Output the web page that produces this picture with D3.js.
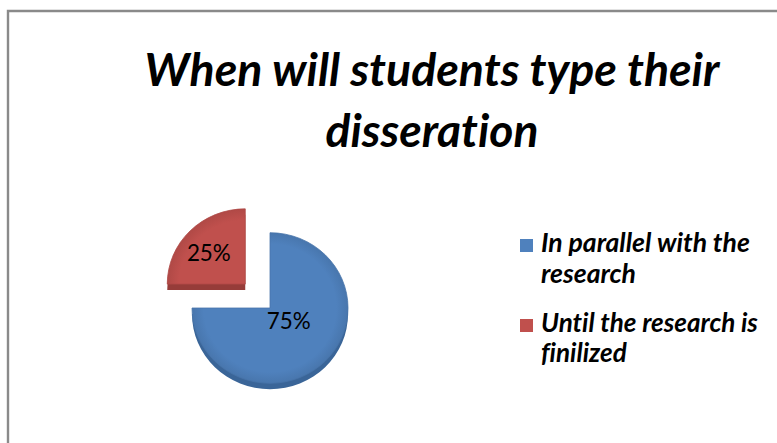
<!DOCTYPE html>
<html>
<head>
<meta charset="utf-8">
<script src="https://cdn.jsdelivr.net/npm/d3@7"></script>
<style>
  html, body { margin: 0; padding: 0; background: #fff; }
  svg { display: block; }
  text { font-variant-ligatures: none; font-feature-settings: "liga" 0, "clig" 0, "dlig" 0; }
</style>
</head>
<body>
<svg id="chart" width="777" height="443"></svg>
<script>
// Survey answers: when students type up their dissertation
const categories = ["In parallel with the research", "Until the research is finilized"];
const legendLines = [["In parallel with the", "research"], ["Until the research is", "finilized"]];
const shares = [75, 25];
const valueLabels = ["75%", "25%"];
const titleLines = ["When will students type their", "disseration"];

const faceColors = ["#4f81bd", "#c0504d"];
const sideColors = ["#3a6598", "#963c39"];
const FONT = "Lato, 'Open Sans', 'DejaVu Sans', sans-serif";

const W = 777, H = 443;
const svg = d3.select("#chart");

// Frame: only the top and left edges fall inside the page
svg.append("path")
  .attr("d", `M8,${H} L8,11 L${W},11`)
  .attr("fill", "none")
  .attr("stroke", "#8a8a8a")
  .attr("stroke-width", 2.4);

// Fit a text element to a target width by adjusting its font size
function fitWidth(sel, target) {
  const node = sel.node();
  const size = parseFloat(sel.attr("font-size"));
  const w = node.getComputedTextLength();
  sel.attr("font-size", size * target / w);
}

// Title
const titleCx = 432;
const titleBaselines = [86, 147];
const titleWidths = [575, 213];
titleLines.forEach((t, i) => {
  const el = svg.append("text")
    .attr("x", titleCx)
    .attr("y", titleBaselines[i])
    .attr("text-anchor", "middle")
    .attr("font-family", FONT)
    .attr("font-weight", 700)
    .attr("font-style", "italic")
    .attr("font-size", 40)
    .attr("fill", "#000")
    .text(t);
  fitWidth(el, titleWidths[i]);
});

// Pie
const cx = 270, cy = 308;
const r = 78, tilt = 0.965, depth = 6, explode = 35;

const pie = d3.pie().sort(null).startAngle(0).endAngle(2 * Math.PI);
const arcs = pie(shares);
const arc = d3.arc().innerRadius(0).outerRadius(r);

// Offset for exploded slices (the smaller one is pulled out)
const explodeBy = [0, explode];
function offset(d, i) {
  const a = (d.startAngle + d.endAngle) / 2;
  return [Math.sin(a) * explodeBy[i], -Math.cos(a) * explodeBy[i] * tilt];
}

const pieG = svg.append("g").attr("transform", `translate(${cx},${cy})`);

// Side walls (drawn first, shifted down)
arcs.forEach((d, i) => {
  const [ox, oy] = offset(d, i);
  pieG.append("g")
    .attr("transform", `translate(${ox},${oy + depth}) scale(1,${tilt})`)
    .append("path")
    .attr("d", arc(d))
    .attr("fill", sideColors[i]);
});

// Top faces with a slightly darker rim
const defs = svg.append("defs");
arcs.forEach((d, i) => {
  const [ox, oy] = offset(d, i);
  const grad = defs.append("radialGradient")
    .attr("id", "face" + i)
    .attr("gradientUnits", "userSpaceOnUse")
    .attr("cx", 0).attr("cy", 0).attr("r", r);
  const base = d3.color(faceColors[i]);
  grad.append("stop").attr("offset", "0.85").attr("stop-color", base.formatHex());
  grad.append("stop").attr("offset", "1").attr("stop-color", base.darker(0.25).formatHex());
  pieG.append("g")
    .attr("transform", `translate(${ox},${oy}) scale(1,${tilt})`)
    .append("path")
    .attr("d", arc(d))
    .attr("fill", `url(#face${i})`)
    .attr("stroke", base.darker(0.3).formatHex())
    .attr("stroke-width", 0.8);
});

// Value labels
const labelRadius = [0.34, 0.66];
const labelShift = [-5, 4];
arcs.forEach((d, i) => {
  const [ox, oy] = offset(d, i);
  const la = d3.arc().innerRadius(r * labelRadius[i]).outerRadius(r * labelRadius[i]);
  const [lx, ly] = la.centroid(d);
  const t = pieG.append("text")
    .attr("x", lx + ox)
    .attr("y", ly * tilt + oy + labelShift[i])
    .attr("dy", "0.35em")
    .attr("text-anchor", "middle")
    .attr("font-family", FONT)
    .attr("font-size", 21)
    .attr("fill", "#000")
    .text(valueLabels[i]);
  fitWidth(t, 44);
});

// Legend
const legX = 520, textX = 541, sw = 13;
const legendBaselines = [[252, 283], [332, 362]];
const legendWidths = [209, 217];
categories.forEach((c, i) => {
  const g = svg.append("g").attr("class", "legend-item").attr("data-name", c);
  g.append("rect")
    .attr("x", legX)
    .attr("y", legendBaselines[i][0] - 13)
    .attr("width", sw)
    .attr("height", sw)
    .attr("fill", faceColors[i]);
  const first = g.append("text")
    .attr("x", textX)
    .attr("y", legendBaselines[i][0])
    .attr("font-family", FONT)
    .attr("font-weight", 700)
    .attr("font-style", "italic")
    .attr("font-size", 20)
    .attr("fill", "#000")
    .text(legendLines[i][0]);
  fitWidth(first, legendWidths[i]);
  g.append("text")
    .attr("x", textX)
    .attr("y", legendBaselines[i][1])
    .attr("font-family", FONT)
    .attr("font-weight", 700)
    .attr("font-style", "italic")
    .attr("font-size", first.attr("font-size"))
    .attr("fill", "#000")
    .text(legendLines[i][1]);
});
</script>
</body>
</html>
